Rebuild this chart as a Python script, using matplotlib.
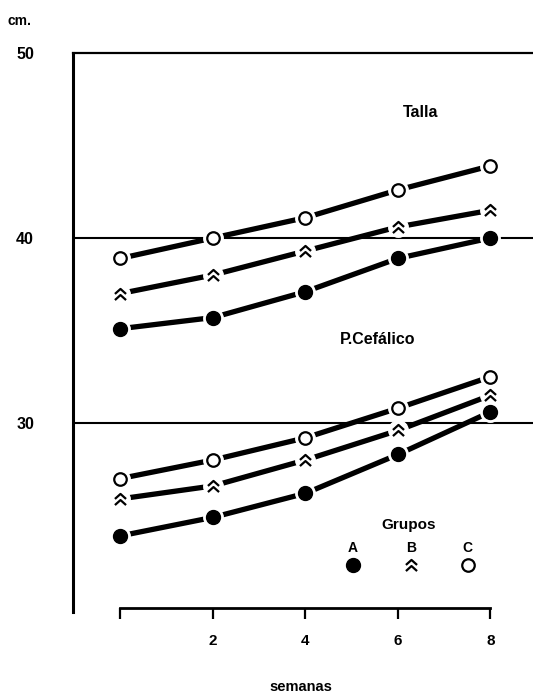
import matplotlib
matplotlib.use('Agg')
import matplotlib.pyplot as plt
from matplotlib.path import Path

plt.rcParams['font.family'] = ['Liberation Sans', 'DejaVu Sans']
plt.rcParams['font.weight'] = 'bold'

weeks = [0, 2, 4, 6, 8]

# Talla (cm)
talla_a = [35.1, 35.7, 37.1, 38.9, 40.0]
talla_b = [37.0, 38.0, 39.3, 40.6, 41.5]
talla_c = [38.9, 40.0, 41.1, 42.6, 43.9]

# Perimetro cefalico (cm)
cef_a = [23.9, 24.9, 26.2, 28.3, 30.6]
cef_b = [25.9, 26.6, 28.0, 29.6, 31.5]
cef_c = [27.0, 28.0, 29.2, 30.8, 32.5]

groups = ['A', 'B', 'C']
x_ticks = [0, 2, 4, 6, 8]
x_labels = ['', '2', '4', '6', '8']
y_ticks = [30, 40, 50]
y_labels = ['30', '40', '50']

# double caret marker used for group B
caret = Path([(-0.5, 0.05), (0, 0.5), (0.5, 0.05),
              (-0.5, -0.5), (0, -0.05), (0.5, -0.5)],
             [Path.MOVETO, Path.LINETO, Path.LINETO,
              Path.MOVETO, Path.LINETO, Path.LINETO])

styles = {
    'A': dict(marker='o', markersize=10, markerfacecolor='black', markeredgecolor='black'),
    'B': dict(marker=caret, markersize=8, markerfacecolor='none', markeredgecolor='black',
              markeredgewidth=1.6),
    'C': dict(marker='o', markersize=9, markerfacecolor='white', markeredgecolor='black',
              markeredgewidth=1.6),
}

fig = plt.figure(figsize=(5.33, 6.99), dpi=100)
ax = fig.add_axes([73 / 533, (699 - 617.25) / 699, 460 / 533, 564.25 / 699])
ax.set_xlim(-1.027, 8.919)
ax.set_ylim(19.5, 50)


def draw(values, grp):
    ax.plot(weeks, values, color='black', lw=3.8, solid_capstyle='round', zorder=2)
    ax.plot(weeks, values, ls='none', marker='o', markersize=14, color='white', zorder=3)
    ax.plot(weeks, values, ls='none', zorder=4, **styles[grp])


for grp, vals in zip(groups, [talla_a, talla_b, talla_c]):
    draw(vals, grp)
for grp, vals in zip(groups, [cef_a, cef_b, cef_c]):
    draw(vals, grp)

# reference lines
ax.axhline(50, color='black', lw=1.6, clip_on=False, zorder=1)
ax.axhline(40, color='black', lw=1.5, zorder=1)
ax.axhline(30, color='black', lw=1.5, zorder=1)

# axes
for s in ['top', 'right']:
    ax.spines[s].set_visible(False)
ax.spines['left'].set_bounds(19.8, 50)
ax.spines['left'].set_linewidth(2.2)
ax.spines['bottom'].set_position(('data', 20))
ax.spines['bottom'].set_bounds(0, 8)
ax.spines['bottom'].set_linewidth(2.0)

ax.set_xticks(x_ticks, x_labels)
ax.set_yticks(y_ticks, y_labels)
ax.tick_params(axis='x', direction='out', length=8, width=1.6, pad=11, labelsize=11)
ax.tick_params(axis='y', length=0, pad=28, labelsize=11.5)

# labels
ax.text(6.48, 46.78, 'Talla', ha='center', va='center', fontsize=11.5)
ax.text(5.55, 34.51, 'P.Cefálico', ha='center', va='center', fontsize=11.5)

# group key
ax.text(6.24, 24.51, 'Grupos', ha='center', va='center', fontsize=11)
for grp, kx in zip(groups, [5.03, 6.28, 7.51]):
    ax.text(kx, 23.27, grp, ha='center', va='center', fontsize=10)
    ax.plot([kx], [22.35], ls='none', **styles[grp])

fig.text(8 / 533, 1 - 21 / 699, 'cm.', ha='left', va='center', fontsize=10)
fig.text(301 / 533, 8 / 699, 'semanas', ha='center', va='baseline', fontsize=10.5)

fig.savefig('out.png', dpi=100, facecolor='white')
